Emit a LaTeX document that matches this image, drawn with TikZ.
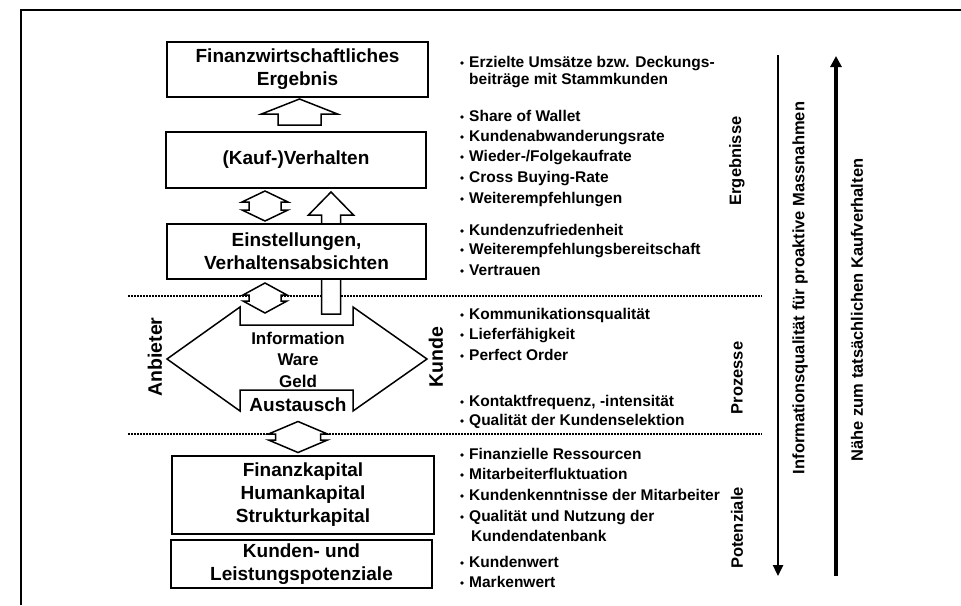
\documentclass[tikz,border=0pt]{standalone}
\usepackage{fontspec}
\setmainfont{Liberation Sans}
\usetikzlibrary{calc, positioning}
\usetikzlibrary{arrows.meta}

% vertical double block arrow: centre x, centre y, half width, half height, head base, notch
\newcommand{\dblarrow}[6]{%
  \draw[blockarrow] (#1,{#2-#4}) -- ({#1+#3},{#2-#5}) -- ({#1+#3-#6},{#2-#5})
    -- ({#1+#3-#6},{#2+#5}) -- ({#1+#3},{#2+#5}) -- (#1,{#2+#4})
    -- ({#1-#3},{#2+#5}) -- ({#1-#3+#6},{#2+#5}) -- ({#1-#3+#6},{#2-#5})
    -- ({#1-#3},{#2-#5}) -- cycle;}
% upward block arrow: centre x, tip y, head base y, bottom y, head half width, shaft half width
\newcommand{\uparrowshape}[6]{%
  \draw[blockarrow] (#1,#2) -- ({#1+#5},#3) -- ({#1+#6},#3) -- ({#1+#6},#4)
    -- ({#1-#6},#4) -- ({#1-#6},#3) -- ({#1-#5},#3) -- cycle;}

\begin{document}
\begin{tikzpicture}[x=1pt,y=-1pt,
  box/.style={draw,line width=1.6pt,fill=white,align=center,inner sep=0pt,
    font=\fontsize{19}{23}\selectfont\bfseries},
  blockarrow/.style={draw,line width=1.5pt,fill=white,line join=miter},
  sep/.style={line width=1.7pt,dash pattern=on 1.6pt off 1.4pt},
  item/.style={anchor=west,inner sep=0pt,text height=11pt,text depth=3pt,
    font=\fontsize{15.5}{18}\selectfont\bfseries},
  side/.style={rotate=90,inner sep=0pt,font=\fontsize{16.5}{20}\selectfont\bfseries},
  dot/.style={circle,fill,inner sep=0pt,minimum size=3.6pt}]
\useasboundingbox (0,0) rectangle (961,605);

% frame
\draw[line width=1.8pt] (21,605) -- (21,10) -- (961,10);

% layers
\draw[sep] (128,296) -- (762,296);
\draw[sep] (128,434) -- (762,434);

% long arrow from the exchange up to the behaviour box
\uparrowshape{331}{192}{215}{314}{22.5}{9.5}

% boxes
\node[box,minimum width=261pt,minimum height=55pt] (ergebnis) at (297.5,69.5) {Finanzwirtschaftliches\\Ergebnis};
\node[box,minimum width=260pt,minimum height=56pt] (verhalten) at (296,160) {(Kauf-)Verhalten};
\node[box,minimum width=259pt,minimum height=55pt] (einstellung) at (296.5,251.5) {Einstellungen,\\Verhaltensabsichten};
\node[box,minimum width=262pt,minimum height=78pt] (kapital) at (303,495) {Finanzkapital\\Humankapital\\Strukturkapital};
\node[box,minimum width=261pt,minimum height=48pt] (potenzial) at (301.5,564) {Kunden- und\\Leistungspotenziale};

% block arrows between the boxes
\uparrowshape{299.5}{99}{114}{125}{38}{21.5}
\dblarrow{265}{206}{23}{15}{4}{7}
\dblarrow{265}{298}{22}{15}{3}{6}
\dblarrow{298}{437}{29.5}{15.5}{3}{7}

% exchange
\draw[blockarrow] (167,359) -- (240,307) -- (240,325) -- (353,325) -- (353,307) -- (427,359)
  -- (353,411) -- (353,390) -- (240,390) -- (240,411) -- cycle;
\node[align=center,inner sep=0pt,font=\fontsize{17}{21.5}\selectfont\bfseries] (guter) at (298,359.5) {Information\\Ware\\Geld};
\node[inner sep=0pt,font=\fontsize{19}{23}\selectfont\bfseries] (austausch) at (298,405) {Austausch};
\node[side,font=\fontsize{19.5}{23}\selectfont\bfseries] (anbieter) at (155,357) {Anbieter};
\node[side,font=\fontsize{19.5}{23}\selectfont\bfseries] (kunde) at (436,357) {Kunde};

% indicators
\foreach \y/\t [count=\i] in {63/{Erzielte Umsätze bzw. Deckungs-},
    117/{Share of Wallet}, 137/{Kundenabwanderungsrate}, 157/{Wieder-/Folgekaufrate},
    178/{Cross Buying-Rate}, 199/{Weiterempfehlungen},
    231/{Kundenzufriedenheit}, 250/{Weiterempfehlungsbereitschaft}, 271/{Vertrauen},
    315/{Kommunikationsqualität}, 335/{Lieferfähigkeit}, 356/{Perfect Order},
    402/{Kontaktfrequenz, -intensität}, 421/{Qualität der Kundenselektion},
    455/{Finanzielle Ressourcen}, 475/{Mitarbeiterfluktuation},
    496/{Kundenkenntnisse der Mitarbeiter}, 517/{Qualität und Nutzung der},
    563/{Kundenwert}, 583/{Markenwert}}
{
  \node[dot] (d\i) at (462,\y) {};
  \node[item] (t\i) at (469,\y) {\t};
}
\node[item] (beitrag) at (469,80) {beiträge mit Stammkunden};
\node[item] (datenbank) at (471,537) {Kundendatenbank};

\node[side] (ergebnisse) at (737,161) {Ergebnisse};
\node[side] (prozesse) at (737,378) {Prozesse};
\node[side] (potenziale) at (737,528) {Potenziale};

% the two scales
\coordinate (infotop) at (778,55);
\coordinate (infobot) at (778,576);
\coordinate (naehebot) at (836,576);
\coordinate (naehetop) at (836,56);
\draw[line width=2.4pt,-{Triangle[width=10pt,length=11pt]}] (infotop) -- (infobot);
\draw[line width=3.4pt,-{Triangle[width=11pt,length=11pt]}] (naehebot) -- (naehetop);
\node[side] (infoq) at (800,288) {Informationsqualität für proaktive Massnahmen};
\node[side] (naehe) at (857,310) {Nähe zum tatsächlichen Kaufverhalten};
\end{tikzpicture}
\end{document}
